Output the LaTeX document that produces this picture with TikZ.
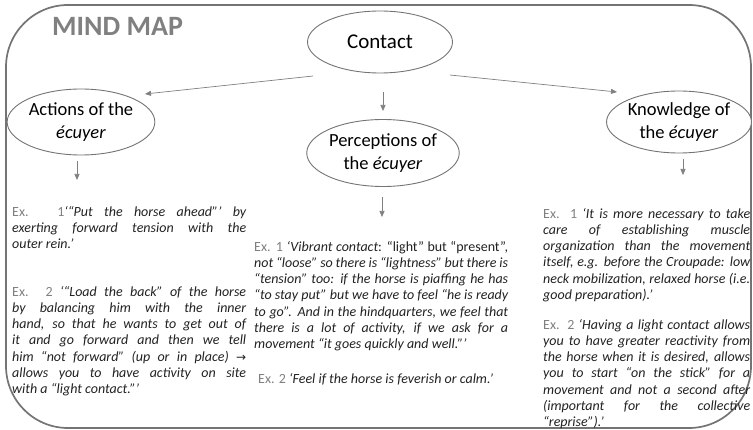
\documentclass[tikz,border=0pt]{standalone}
\usepackage{fontspec}
\setmainfont{Carlito}
\newfontfamily\symfont{DejaVu Sans}
\usetikzlibrary{shapes.geometric,arrows.meta}
\definecolor{framegray}{HTML}{747474}
\definecolor{txtgray}{HTML}{808080}
\definecolor{txtdark}{HTML}{222222}
\newcommand\exlab[1]{{\upshape\color{txtgray}Ex. #1}}
\newcommand\jl[2]{\makebox[#1][s]{#2}}
\begin{document}
\begin{tikzpicture}[x=1pt,y=-1pt,
  bub/.style={draw=framegray,line width=0.9pt,ellipse,fill=white,align=center,
    font=\fontsize{18.5}{23}\selectfont,inner sep=0pt,text=black},
  arr/.style={draw=txtgray,line width=0.7pt,-{Triangle[length=6pt,width=5pt]}},
  para/.style={anchor=north west,inner sep=0pt,align=left,text=txtdark,
    font=\fontsize{14}{16.2}\selectfont\itshape},
]
\useasboundingbox (0,0) rectangle (753,430);
\draw[framegray,line width=1.7pt,rounded corners=62pt] (6,5) rectangle (751,428);
\node[anchor=base west,inner sep=0pt,text=txtgray,font=\fontsize{28}{32}\selectfont\bfseries] (title) at (52,36) {MIND MAP};

\node[bub,minimum width=145pt,minimum height=62pt,font=\fontsize{21}{25}\selectfont] (contact) at (380,42) {Contact};
\node[bub,minimum width=147pt,minimum height=66pt] (actions) at (81,122) {Actions of the\\\textit{écuyer}};
\node[bub,minimum width=150pt,minimum height=67pt] (perc) at (383,153) {Perceptions of\\the \textit{écuyer}};
\node[bub,minimum width=140pt,minimum height=62pt] (know) at (679,122) {Knowledge of\\the \textit{écuyer}};

\coordinate (ca1) at (313,76); \coordinate (ca2) at (145,94);
\coordinate (ck1) at (450,75); \coordinate (ck2) at (617,92);
\coordinate (cp1) at (383,92); \coordinate (cp2) at (383,111);
\coordinate (at1) at (77,161); \coordinate (at2) at (77,180);
\coordinate (pt1) at (382,197); \coordinate (pt2) at (382,217);
\coordinate (kt1) at (683,159); \coordinate (kt2) at (683,175);
\draw[arr] (ca1) -- (ca2);
\draw[arr] (ck1) -- (ck2);
\draw[arr] (cp1) -- (cp2);
\draw[arr] (at1) -- (at2);
\draw[arr] (pt1) -- (pt2);
\draw[arr] (kt1) -- (kt2);

\node[para] (a1) at (12,204.7) {%
\jl{234pt}{\strut\exlab{1}‘“Put the horse ahead”’ by}\\
\jl{234pt}{exerting forward tension with the}\\
outer rein.’};
\node[para] (a2) at (12,284.7) {%
\jl{234pt}{\strut\exlab{2} ‘“Load the back” of the horse}\\
\jl{234pt}{by balancing him with the inner}\\
\jl{234pt}{hand, so that he wants to get out of}\\
\jl{234pt}{it and go forward and then we tell}\\
\jl{234pt}{him “not forward” (up or in place) {\upshape\symfont\fontsize{12}{16.2}\selectfont →}}\\
\jl{234pt}{allows you to have activity on site}\\
with a “light contact.”’};

\node[para] (p1) at (254,239.7) {%
\jl{254pt}{\strut\exlab{1} ‘Vibrant contact{\upshape: “light” but “present”,}}\\
\jl{254pt}{not “loose” so there is “lightness” but there is}\\
\jl{254pt}{“tension” too: if the horse is piaffing he has}\\
\jl{254pt}{“to stay put” but we have to feel “he is ready}\\
\jl{254pt}{to go”. And in the hindquarters, we feel that}\\
\jl{254pt}{there is a lot of activity, if we ask for a}\\
movement “it goes quickly and well.”’};
\node[para] (p2) at (258,371.7) {\strut\exlab{2} ‘Feel if the horse is feverish or calm.’};

\node[para] (k1) at (543,206.7) {%
\jl{207pt}{\strut\exlab{1} ‘It is more necessary to take}\\
\jl{207pt}{care of establishing muscle}\\
\jl{207pt}{organization than the movement}\\
\jl{207pt}{itself, e.g. before the Croupade: low}\\
\jl{207pt}{neck mobilization, relaxed horse (i.e.}\\
good preparation).’};
\node[para] (k2) at (543,317.7) {%
\jl{207pt}{\strut\exlab{2} ‘Having a light contact allows}\\
\jl{207pt}{you to have greater reactivity from}\\
\jl{207pt}{the horse when it is desired, allows}\\
\jl{207pt}{you to start “on the stick” for a}\\
\jl{207pt}{movement and not a second after}\\
\jl{207pt}{(important for the collective}\\
“reprise”).’};
\end{tikzpicture}
\end{document}
